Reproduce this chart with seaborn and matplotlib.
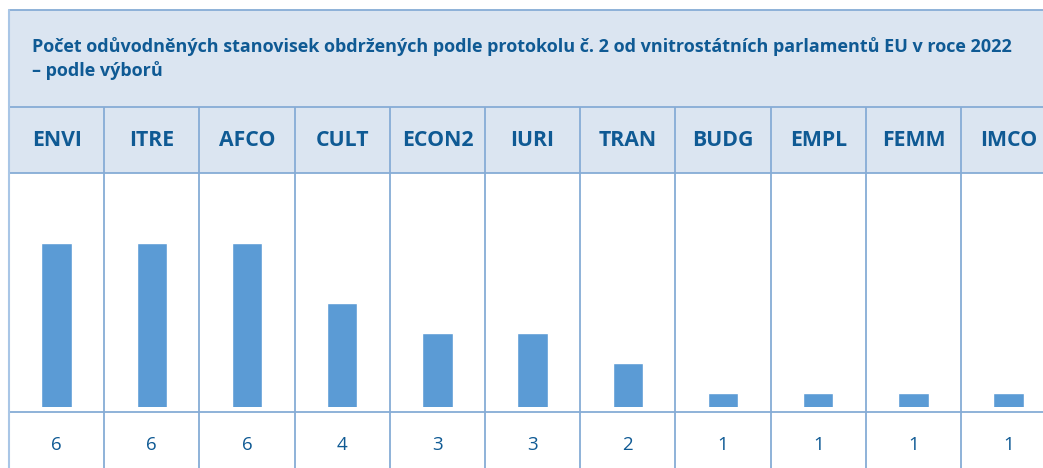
import matplotlib
matplotlib.use("Agg")
import matplotlib.pyplot as plt
import matplotlib.transforms as mtransforms
from matplotlib.patches import Rectangle
from matplotlib.lines import Line2D
import pandas as pd
import seaborn as sns

# data
title = ("Počet odůvodněných stanovisek obdržených podle protokolu č. 2 od vnitrostátních "
         "parlamentů EU v roce 2022\n– podle výborů")
committees = ["ENVI", "ITRE", "AFCO", "CULT", "ECON2", "IURI", "TRAN", "BUDG", "EMPL", "FEMM", "IMCO"]
opinions = [6, 6, 6, 4, 3, 3, 2, 1, 1, 1, 1]

# styles
TEXT_C = "#0f5a94"
BAR_C = "#5b9bd5"
FILL_C = "#dbe5f1"
LINE_C = "#86acd6"

sns.set_theme(style="white")
plt.rcParams['font.family'] = ['Open Sans', 'DejaVu Sans']

W, H = 1043, 468
fig = plt.figure(figsize=(W / 100, H / 100), dpi=100)

def fx(px):
    return px / W

def fy(py):
    return (H - py) / H

# table geometry (pixels)
left, col_w = 9, 95.2
n = len(committees)
top, head_top, head_bot, area_bot, bar_base = 10, 107, 173, 412, 407

# background of title + header rows
fig.patches.append(Rectangle((fx(left), fy(head_bot)), 1, fy(top) - fy(head_bot),
                             transform=fig.transFigure, facecolor=FILL_C, edgecolor="none", zorder=-1))
for y in [top, head_top, head_bot, area_bot]:
    fig.lines.append(Line2D([fx(left), 1], [fy(y), fy(y)], transform=fig.transFigure,
                            color=LINE_C, lw=1.3))
fig.lines.append(Line2D([fx(left), fx(left)], [fy(top), 0], transform=fig.transFigure,
                        color="#a9c6e6", lw=1.5))

fig.text(fx(32), fy(37), title, ha="left", va="top", fontsize=13, fontweight="bold",
         color=TEXT_C, linespacing=1.35)

# bar axes
ax = fig.add_axes([fx(left), fy(bar_base), (n * col_w) / W, (bar_base - head_bot) / H])
df = pd.DataFrame({"committee": committees, "opinions": opinions})
sns.barplot(data=df, x="committee", y="opinions", color=BAR_C, width=0.32,
            saturation=1, ax=ax, zorder=2)
ax.set_xlim(-0.5, n - 0.5)
ax.set_ylim(0.525, 0.525 + (bar_base - head_bot) / 30)
ax.axis("off")

trans = mtransforms.blended_transform_factory(ax.transData, fig.transFigure)
ax.vlines([i + 0.5 for i in range(-1, n)], 0, fy(head_top), transform=trans,
          colors=LINE_C, lw=1.3, clip_on=False)
for i, (c, v) in enumerate(zip(committees, opinions)):
    ax.text(i, fy(141), c, transform=trans, ha="center", va="center",
            fontsize=15.3, fontweight="bold", color=TEXT_C, clip_on=False)
    ax.text(i, fy(445), str(v), transform=trans, ha="center", va="center",
            fontsize=13.5, color=TEXT_C, clip_on=False)

fig.savefig("out.png", dpi=100)
